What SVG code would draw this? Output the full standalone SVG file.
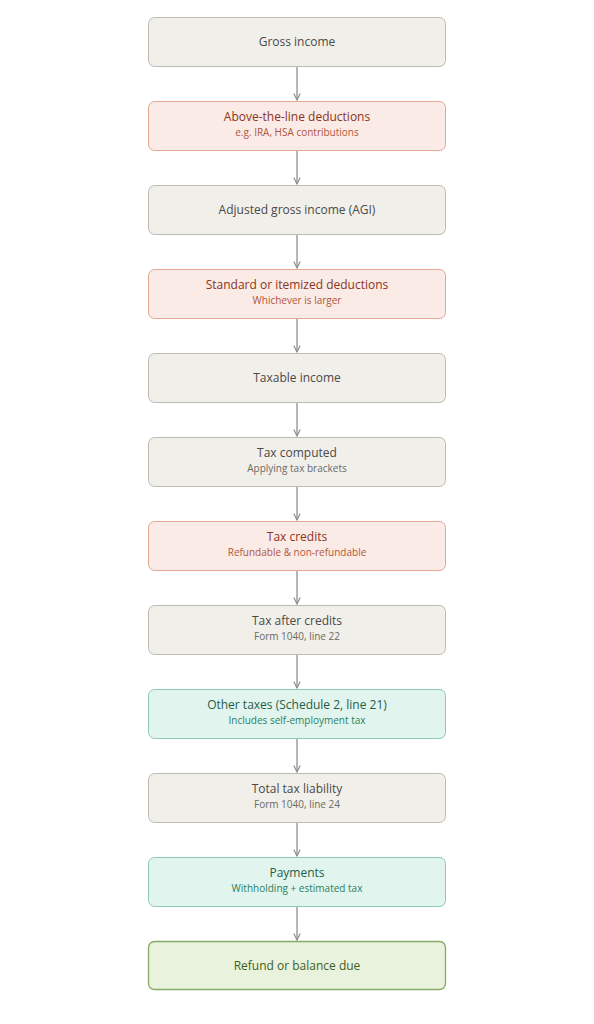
<svg xmlns="http://www.w3.org/2000/svg" width="594" height="1024" viewBox="0 0 594 1024">
<defs>
<style>
.bx{stroke-width:1}
.n rect{fill:#f1efea;stroke:#bdbab2}
.r rect{fill:#fbebe6;stroke:#e3a696}
.t rect{fill:#e2f4ee;stroke:#8ccab3}
.g rect{fill:#e9f2dd;stroke:#86ab68;stroke-width:1.3}
text{font-family:"Open Sans","Noto Sans",sans-serif;text-anchor:middle}
.h{font-size:12px}
.s{font-size:10px}
.n .h{fill:#4a4a48}.n .s{fill:#6a6a66}
.r .h{fill:#8a3422}.r .s{fill:#b2563a}
.t .h{fill:#1d5e48}.t .s{fill:#2a7f60}
.g .h{fill:#3f5f22}
.c line{stroke:#8f8f8a;stroke-width:1.3}
</style>
<marker id="ar" viewBox="0 0 10 10" refX="9" refY="5" markerWidth="8" markerHeight="8" markerUnits="userSpaceOnUse" orient="auto"><path d="M1,1 L9,5 L1,9" fill="none" stroke="#8f8f8a" stroke-width="1.5"/></marker>
</defs>
<rect width="594" height="1024" fill="#ffffff"/>
<g class="c">
<line x1="297" y1="66" x2="297" y2="100" marker-end="url(#ar)"/>
<line x1="297" y1="150" x2="297" y2="184" marker-end="url(#ar)"/>
<line x1="297" y1="234" x2="297" y2="268" marker-end="url(#ar)"/>
<line x1="297" y1="318" x2="297" y2="352" marker-end="url(#ar)"/>
<line x1="297" y1="402" x2="297" y2="436" marker-end="url(#ar)"/>
<line x1="297" y1="486" x2="297" y2="520" marker-end="url(#ar)"/>
<line x1="297" y1="570" x2="297" y2="604" marker-end="url(#ar)"/>
<line x1="297" y1="654" x2="297" y2="688" marker-end="url(#ar)"/>
<line x1="297" y1="738" x2="297" y2="772" marker-end="url(#ar)"/>
<line x1="297" y1="822" x2="297" y2="856" marker-end="url(#ar)"/>
<line x1="297" y1="906" x2="297" y2="940" marker-end="url(#ar)"/>
</g>
<g id="n1" class="n"><rect x="148.5" y="17.5" width="297" height="49" rx="6"/><text class="h" x="297" y="46">Gross income</text></g>
<g id="n2" class="r"><rect x="148.5" y="101.5" width="297" height="49" rx="6"/><text class="h" x="297" y="121">Above-the-line deductions</text><text class="s" x="297" y="135.5">e.g. IRA, HSA contributions</text></g>
<g id="n3" class="n"><rect x="148.5" y="185.5" width="297" height="49" rx="6"/><text class="h" x="297" y="214">Adjusted gross income (AGI)</text></g>
<g id="n4" class="r"><rect x="148.5" y="269.5" width="297" height="49" rx="6"/><text class="h" x="297" y="289">Standard or itemized deductions</text><text class="s" x="297" y="303.5">Whichever is larger</text></g>
<g id="n5" class="n"><rect x="148.5" y="353.5" width="297" height="49" rx="6"/><text class="h" x="297" y="382">Taxable income</text></g>
<g id="n6" class="n"><rect x="148.5" y="437.5" width="297" height="49" rx="6"/><text class="h" x="297" y="457">Tax computed</text><text class="s" x="297" y="471.5">Applying tax brackets</text></g>
<g id="n7" class="r"><rect x="148.5" y="521.5" width="297" height="49" rx="6"/><text class="h" x="297" y="541">Tax credits</text><text class="s" x="297" y="555.5">Refundable &amp; non-refundable</text></g>
<g id="n8" class="n"><rect x="148.5" y="605.5" width="297" height="49" rx="6"/><text class="h" x="297" y="625">Tax after credits</text><text class="s" x="297" y="639.5">Form 1040, line 22</text></g>
<g id="n9" class="t"><rect x="148.5" y="689.5" width="297" height="49" rx="6"/><text class="h" x="297" y="709">Other taxes (Schedule 2, line 21)</text><text class="s" x="297" y="723.5">Includes self-employment tax</text></g>
<g id="n10" class="n"><rect x="148.5" y="773.5" width="297" height="49" rx="6"/><text class="h" x="297" y="793">Total tax liability</text><text class="s" x="297" y="807.5">Form 1040, line 24</text></g>
<g id="n11" class="t"><rect x="148.5" y="857.5" width="297" height="49" rx="6"/><text class="h" x="297" y="877">Payments</text><text class="s" x="297" y="891.5">Withholding + estimated tax</text></g>
<g id="n12" class="g"><rect x="148.5" y="941.5" width="297" height="48" rx="6"/><text class="h" x="297" y="970">Refund or balance due</text></g>
</svg>
